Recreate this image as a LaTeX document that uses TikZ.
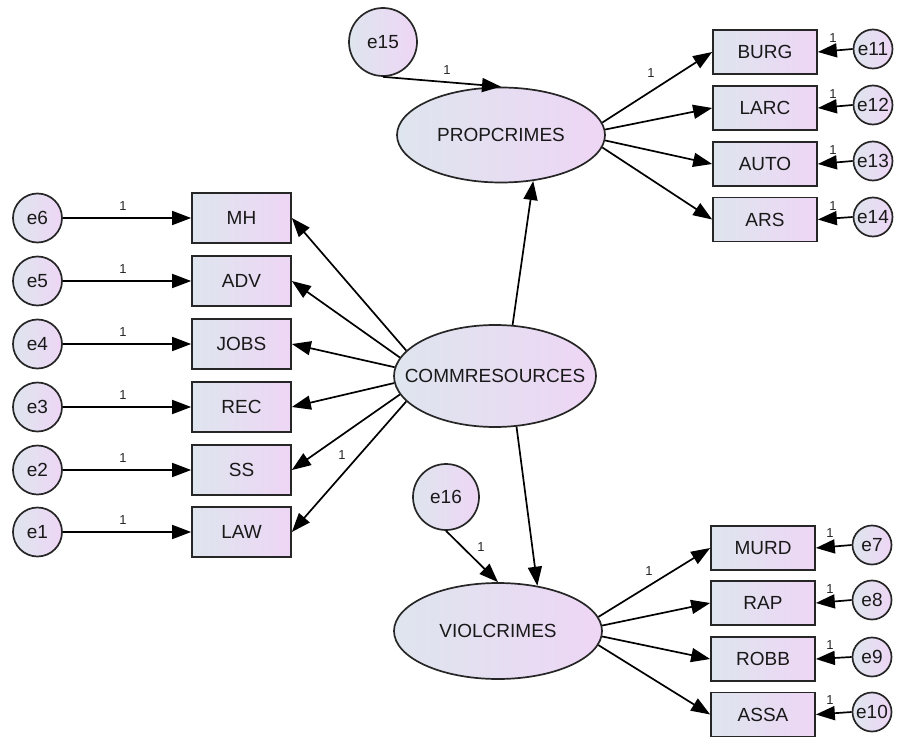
\documentclass[tikz,border=0pt]{standalone}
\usepackage{fontspec}
\setmainfont{Liberation Sans}
\usetikzlibrary{shapes.geometric,arrows.meta}
\definecolor{colA}{RGB}{222,229,238}
\definecolor{colB}{RGB}{238,214,245}
\begin{document}
\begin{tikzpicture}[x=1pt,y=-1pt,
  every node/.style={font=\fontsize{19}{22}\selectfont, text=black!90},
  grad/.style={draw=black!85, line width=1.7pt, left color=colA, right color=colB},
  obsL/.style={grad, rectangle, minimum width=99pt, minimum height=50pt, inner sep=0pt},
  obsR/.style={grad, rectangle, minimum width=104pt, minimum height=44pt, inner sep=0pt},
  lat/.style={grad, ellipse, inner sep=0pt},
  errL/.style={grad, circle, minimum size=49pt, inner sep=0pt},
  errR/.style={grad, circle, minimum size=39pt, inner sep=0pt},
  arr/.style={line width=1.7pt, draw=black, -{Triangle[length=19pt,width=14pt]}},
  one/.style={font=\fontsize{13}{15}\selectfont, inner sep=0pt, text=black!85}]
\useasboundingbox (0,0) rectangle (904,741);

% latent variables
\node[lat, minimum width=208pt, minimum height=95pt] (prop) at (501,135) {\makebox[0pt]{PROPCRIMES}};
\node[lat, minimum width=202pt, minimum height=102pt] (comm) at (495,376) {\makebox[0pt]{COMMRESOURCES}};
\node[lat, minimum width=208pt, minimum height=96pt] (viol) at (498,631) {\makebox[0pt]{VIOLCRIMES}};

% disturbances
\node[grad, circle, minimum size=68pt, inner sep=0pt] (e15) at (383,42) {e15};
\node[grad, circle, minimum size=66pt, inner sep=0pt] (e16) at (446,497) {e16};

% left indicators
\node[obsL] (mh)   at (241.5,218) {MH};
\node[obsL] (adv)  at (241.5,281) {ADV};
\node[obsL] (jobs) at (241.5,344) {JOBS};
\node[obsL] (rec)  at (241.5,407) {REC};
\node[obsL] (ss)   at (241.5,470) {SS};
\node[obsL] (law)  at (241.5,532) {LAW};

\node[errL] (e6) at (37.5,218) {e6};
\node[errL] (e5) at (37.5,281) {e5};
\node[errL] (e4) at (37.5,344) {e4};
\node[errL] (e3) at (37.5,407) {e3};
\node[errL] (e2) at (37.5,470) {e2};
\node[errL] (e1) at (37.5,532) {e1};

% right indicators (property)
\node[obsR] (burg) at (765,52) {BURG};
\node[obsR] (larc) at (765,108) {LARC};
\node[obsR] (auto) at (765,164) {AUTO};
\node[obsR] (ars)  at (765,219.5) {ARS};

\node[errR] (e11) at (873,49) {e11};
\node[errR] (e12) at (873,105) {e12};
\node[errR] (e13) at (873,161) {e13};
\node[errR] (e14) at (873,217) {e14};

% right indicators (violent)
\node[obsR] (murd) at (763,548) {MURD};
\node[obsR] (rap)  at (763,603) {RAP};
\node[obsR] (robb) at (763,659) {ROBB};
\node[obsR] (assa) at (763,714.5) {ASSA};

\node[errR] (e7)  at (872,545) {e7};
\node[errR] (e8)  at (872,600) {e8};
\node[errR] (e9)  at (872,657) {e9};
\node[errR] (e10) at (872,712) {e10};

% structural paths
\draw[arr] (comm.71) -- (prop.-55);
\draw[arr] (comm.-67) -- (viol.49);
\draw[arr] (e15.south) -- (prop.north);
\draw[arr] (e16.south) -- (viol.north);

% comm -> left indicators
\draw[arr] (comm.164) -- (mh.east);
\draw[arr] (comm.169) -- (adv.east);
\draw[arr] (comm.175.5) -- (jobs.east);
\draw[arr] (comm.184.5) -- (rec.east);
\draw[arr] (comm.191) -- (ss.east);
\draw[arr] (comm.196) -- (law.east);

% errors -> left indicators
\foreach \e/\b in {e6/mh,e5/adv,e4/jobs,e3/rec,e2/ss,e1/law}
  \draw[arr] (\e.east) -- (\b.west);

% prop -> indicators
\draw[arr] (prop.7) -- (burg.west);
\draw[arr] (prop.3) -- (larc.west);
\draw[arr] (prop.-3) -- (auto.west);
\draw[arr] (prop.-7) -- (ars.west);

% viol -> indicators
\draw[arr] (viol.8) -- (murd.west);
\draw[arr] (viol.3) -- (rap.west);
\draw[arr] (viol.-3) -- (robb.west);
\draw[arr] (viol.-8) -- (assa.west);

% errors -> right indicators
\foreach \e/\b in {e11/burg,e12/larc,e13/auto,e14/ars,e7/murd,e8/rap,e9/robb,e10/assa}
  \draw[arr] (\e.west) -- (\b.east);

% labels "1"
\node[one] (l15) at (447,70) {1};
\node[one] (l16) at (481,547) {1};
\node[one] (llaw) at (342,455) {1};
\node[one] (lburg) at (651,73) {1};
\node[one] (lmurd) at (649,571) {1};
\node[one] (l6) at (123,206) {1};
\node[one] (l5) at (123,269) {1};
\node[one] (l4) at (123,332) {1};
\node[one] (l3) at (123,395) {1};
\node[one] (l2) at (123,458) {1};
\node[one] (l1) at (123,520) {1};
\node[one] (l11) at (833,38) {1};
\node[one] (l12) at (833,94) {1};
\node[one] (l13) at (833,150) {1};
\node[one] (l14) at (833,206) {1};
\node[one] (l7) at (830,533) {1};
\node[one] (l8) at (830,589) {1};
\node[one] (l9) at (830,645) {1};
\node[one] (l10) at (830,700) {1};
\end{tikzpicture}
\end{document}
